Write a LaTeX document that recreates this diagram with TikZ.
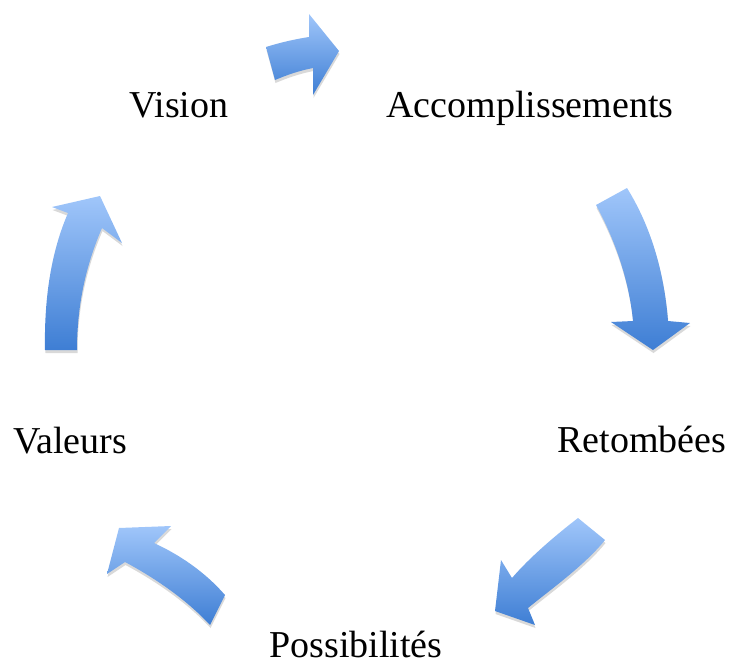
\documentclass[tikz,border=0pt]{standalone}
\usepackage{fontspec}
\setmainfont{Liberation Serif}
\usetikzlibrary{positioning, shadows}
\definecolor{arrowlight}{RGB}{160,198,250}
\definecolor{arrowdark}{RGB}{62,126,212}
\tikzstyle{label} = [anchor=base, inner sep=0pt, font=\fontsize{38}{44}\selectfont]
\tikzstyle{cyclearrow} = [top color=arrowlight, bottom color=arrowdark, draw=none,
	drop shadow={shadow xshift=0.5pt, shadow yshift=-3pt, opacity=0.15, fill=black}]

\begin{document}
\begin{tikzpicture}[x=1pt, y=-1pt]
\useasboundingbox (0,0) rectangle (731,662);
% Placement of nodes
\node (vision) [label] at (179,117) {Vision};
\node (accomp) [label] at (530,117) {Accomplissements};
\node (retomb) [label] at (642,452) {Retombées};
\node (possib) [label] at (356,657) {Possibilités};
\node (valeurs) [label] at (70,453) {Valeurs};

% Placement of arrows
% vision -> accomplissements
\path [cyclearrow] (266,47) .. controls (282,42) and (296,39) .. (309,37) -- (309,14) -- (339,51)
	-- (313,95) -- (313,68) .. controls (298,71) and (287,75) .. (275,80) -- cycle;
% accomplissements -> retombees
\path [cyclearrow] (596,205) .. controls (615,240) and (629,280) .. (633,321) -- (611,322) -- (653,350)
	-- (690,323) -- (668,321) .. controls (664,270) and (650,225) .. (627,188) -- cycle;
% retombees -> possibilites
\path [cyclearrow] (578,518) .. controls (556,535) and (530,557) .. (512,578) -- (501,560) -- (495,611)
	-- (535,625) -- (528,608) .. controls (550,590) and (585,565) .. (605,540) -- cycle;
% possibilites -> valeurs
\path [cyclearrow] (225,595) .. controls (205,572) and (180,555) .. (154,543) -- (171,526) -- (119,528)
	-- (107,574) -- (125,562) .. controls (155,578) and (187,600) .. (210,625) -- cycle;
% valeurs -> vision
\path [cyclearrow] (45,350) .. controls (44,295) and (52,250) .. (68,213) -- (52,207) -- (100,196)
	-- (122,243) -- (102,228) .. controls (86,265) and (77,305) .. (77,350) -- cycle;
\end{tikzpicture}
\end{document}
